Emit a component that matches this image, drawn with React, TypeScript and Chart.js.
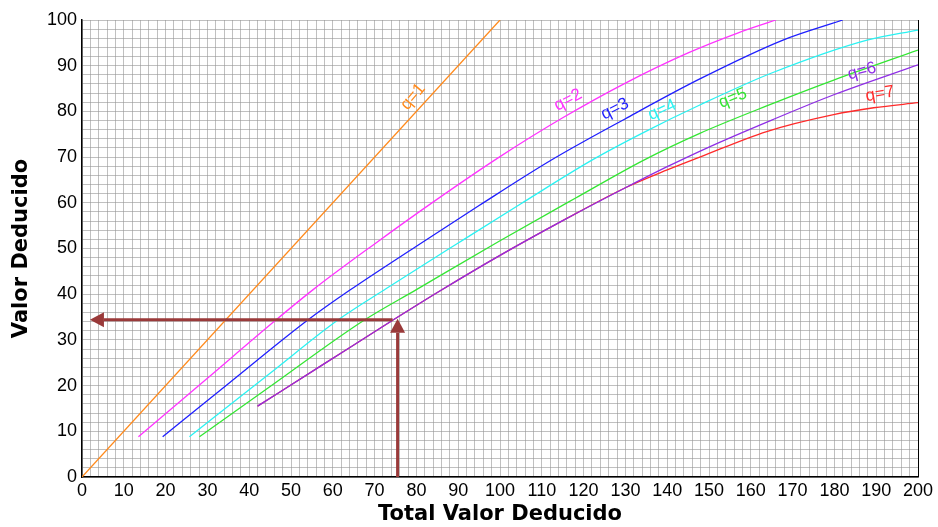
import React, { useEffect, useRef } from "react";
import { Chart, registerables } from "chart.js";

Chart.register(...registerables);

// Axis ranges
const xMin = 0;
const xMax = 200;
const yMin = 0;
const yMax = 100;
const gridStep = 2;
const labelStep = 10;

// Curves (Total Valor Deducido -> Valor Deducido Corregido)
const q1X = [0, 100];
const q1Y = [0, 100];
const q2X = [13.5, 30, 45.8, 55.3, 70, 85, 100, 115, 130, 145, 157, 166];
const q2Y = [8.8, 21.6, 33.9, 41.0, 51.0, 60.8, 70.1, 78.6, 86.2, 92.8, 97.2, 100];
const q3X = [19.3, 35, 54.1, 64.1, 80, 95, 112, 130, 147.8, 167.7, 182];
const q3Y = [8.8, 20.4, 34.4, 40.9, 50.5, 59.4, 69.2, 78.4, 87.1, 95.6, 100];
const q4X = [25.7, 45, 61.3, 72.9, 90, 105, 122.3, 135, 147.8, 165, 187.8, 200];
const q4Y = [8.8, 22.7, 34.4, 41.3, 51.2, 59.8, 69.5, 75.7, 81.4, 88.4, 95.6, 97.8];
const q5X = [28.1, 45, 67.3, 80, 100, 118, 134.3, 147.8, 163.8, 180, 200];
const q5Y = [8.8, 19.8, 34.2, 41.0, 51.7, 61.0, 69.3, 75.2, 81.2, 86.9, 93.4];
const q6X = [42, 58, 74.5, 85.6, 100, 115, 130, 140, 150, 165, 180, 200];
const q6Y = [15.5, 24.8, 34.4, 40.7, 48.5, 56.1, 63.3, 67.9, 72.2, 78.1, 83.7, 90.2];
const q7X = [42, 58, 74.5, 85.6, 100, 115, 130, 140, 147.8, 163.8, 179.8, 189.4, 200];
const q7Y = [15.5, 24.8, 34.4, 40.7, 48.5, 56.1, 63.3, 67.2, 70.0, 75.6, 79.3, 80.8, 81.9];

const curveNames = ["q=1", "q=2", "q=3", "q=4", "q=5", "q=6", "q=7"];
const curveXs = [q1X, q2X, q3X, q4X, q5X, q6X, q7X];
const curveYs = [q1Y, q2Y, q3Y, q4Y, q5Y, q6Y, q7Y];
const curveColors = ["#ff8a1c", "#ff33ff", "#1f1fff", "#2af2f2", "#33e633", "#8f2ee6", "#ff2a2a"];

// Curve label anchors (data units) and angles (degrees)
const labelXs = [79.2, 116.3, 127.5, 138.8, 155.7, 186.6, 190.9];
const labelYs = [83.2, 82.5, 80.5, 80.3, 82.9, 88.8, 83.8];
const labelAngles = [-50, -28, -27, -25, -22, -15, -10];

// Example reading: TDV = 75.5 -> VDC = 34.4
const readX = 75.5;
const readY = 34.4;
const readArrowEndX = 1.9;
const arrowColor = "#9a3a3a";

const annotationPlugin = {
  id: "annotations",
  afterDatasetsDraw(chart: any) {
    const { ctx } = chart;
    const xs = chart.scales.x;
    const ys = chart.scales.y;
    ctx.save();
    // curve labels
    ctx.font = "17px 'Liberation Sans', Arial, sans-serif";
    ctx.textAlign = "center";
    ctx.textBaseline = "middle";
    curveNames.forEach((name, i) => {
      const px = xs.getPixelForValue(labelXs[i]);
      const py = ys.getPixelForValue(labelYs[i]);
      ctx.save();
      ctx.translate(px, py);
      ctx.rotate((labelAngles[i] * Math.PI) / 180);
      ctx.fillStyle = curveColors[i];
      ctx.fillText(name, 0, 0);
      ctx.restore();
    });

    // arrows
    ctx.strokeStyle = arrowColor;
    ctx.fillStyle = arrowColor;
    ctx.lineWidth = 3;
    const head = 14;
    const half = 7.5;
    // vertical arrow (up)
    const vx = xs.getPixelForValue(readX);
    const vy0 = ys.getPixelForValue(yMin);
    const vy1 = ys.getPixelForValue(readY) - 1;
    ctx.beginPath();
    ctx.moveTo(vx, vy0);
    ctx.lineTo(vx, vy1 + head);
    ctx.stroke();
    ctx.beginPath();
    ctx.moveTo(vx, vy1);
    ctx.lineTo(vx - half, vy1 + head);
    ctx.lineTo(vx + half, vy1 + head);
    ctx.closePath();
    ctx.fill();
    // horizontal arrow (left)
    const hy = ys.getPixelForValue(readY);
    const hx0 = xs.getPixelForValue(readX - 1.2);
    const hx1 = xs.getPixelForValue(readArrowEndX);
    ctx.beginPath();
    ctx.moveTo(hx0, hy);
    ctx.lineTo(hx1 + head, hy);
    ctx.stroke();
    ctx.beginPath();
    ctx.moveTo(hx1, hy);
    ctx.lineTo(hx1 + head, hy - half);
    ctx.lineTo(hx1 + head, hy + half);
    ctx.closePath();
    ctx.fill();
    ctx.restore();
  },
};

const tickFont = { family: "'Liberation Sans', Arial, sans-serif", size: 18 };
const titleFont = { family: "'DejaVu Sans', sans-serif", size: 21, weight: "bold" as const };
const gridColor = "rgba(150,150,150,0.6)";

export default function App() {
  const canvasRef = useRef<HTMLCanvasElement | null>(null);

  useEffect(() => {
    document.body.style.margin = "0";
    const canvas = canvasRef.current;
    if (!canvas) return;
    const datasets = curveNames.map((name, i) => ({
      label: name,
      data: curveXs[i].map((x, j) => ({ x, y: curveYs[i][j] })),
      borderColor: curveColors[i],
      backgroundColor: curveColors[i],
      borderWidth: 1.3,
      pointRadius: 0,
      fill: false,
      cubicInterpolationMode: "monotone" as const,
    }));

    const chart = new Chart(canvas, {
      type: "line",
      data: { datasets },
      plugins: [annotationPlugin],
      options: {
        responsive: false,
        animation: false,
        layout: { padding: { top: 20, right: 20, left: 0, bottom: 0 } },
        plugins: {
          legend: { display: false },
          tooltip: { enabled: false },
        },
        scales: {
          x: {
            type: "linear",
            min: xMin,
            max: xMax,
            ticks: {
              stepSize: gridStep,
              autoSkip: false,
              maxRotation: 0,
              padding: 3,
              color: "#000",
              font: tickFont,
              callback: (v: any) => (Number(v) % labelStep === 0 ? String(v) : ""),
            },
            grid: {
              drawTicks: false,
              lineWidth: 1,
              color: (c: any) => (c.tick && c.tick.value === xMax ? "#000" : gridColor),
            },
            border: { color: "#000", width: 1.5 },
            title: {
              display: true,
              text: "Total Valor Deducido",
              color: "#000",
              font: titleFont,
              padding: { top: 0, bottom: 0 },
            },
            afterFit: (s: any) => {
              s.height = 50;
            },
          },
          y: {
            type: "linear",
            min: yMin,
            max: yMax,
            ticks: {
              stepSize: gridStep,
              autoSkip: false,
              padding: 5,
              color: "#000",
              font: tickFont,
              callback: (v: any) => (Number(v) % labelStep === 0 ? String(v) : ""),
            },
            grid: {
              drawTicks: false,
              lineWidth: 1,
              color: gridColor,
            },
            border: { color: "#000", width: 1.5 },
            title: {
              display: true,
              text: "Valor Deducido",
              color: "#000",
              font: titleFont,
              padding: { top: 9, bottom: 0 },
            },
            afterFit: (s: any) => {
              s.width = 82;
            },
          },
        },
      },
    });
    return () => chart.destroy();
  }, []);

  return (
    <div style={{ width: 938, height: 527, background: "#fff" }}>
      <canvas ref={canvasRef} width={938} height={527} style={{ display: "block" }} />
    </div>
  );
}
